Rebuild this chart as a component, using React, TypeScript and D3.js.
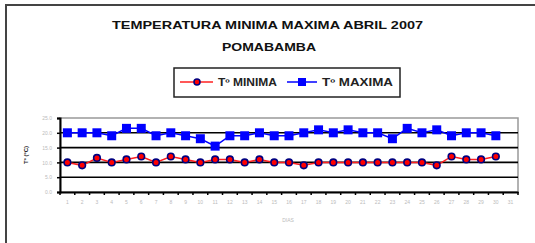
import { useEffect, useRef } from "react";
import * as d3 from "d3";

const days = d3.range(1, 32).map(String);
const tMin = [10, 9, 11.5, 10, 11, 12, 10, 12, 11, 10, 11, 11, 10, 11, 10, 10, 9, 10, 10, 10, 10, 10, 10, 10, 10, 9, 12, 11, 11, 12];
const tMax = [20, 20, 20, 19, 21.5, 21.5, 19, 20, 19, 18, 15.5, 19, 19, 20, 19, 19, 20, 21, 20, 21, 20, 20, 18, 21.5, 20, 21, 19, 20, 20, 19];
const yTicks = [0, 5, 10, 15, 20, 25];

const W = 535;
const H = 243;

export default function App() {
  const svgRef = useRef<SVGSVGElement | null>(null);

  useEffect(() => {
    if (!svgRef.current) return;
    const svg = d3.select(svgRef.current);
    svg.selectAll("*").remove();

    const font = "'Liberation Sans', Arial, sans-serif";
    const left = 60;
    const right = 518;
    const top = 118;
    const bottom = 192;

    // outer chart frame (cut off at right/bottom)
    svg.append("rect")
      .attr("x", 6).attr("y", 5).attr("width", 545).attr("height", 260)
      .attr("fill", "#fff").attr("stroke", "#444").attr("stroke-width", 2);

    // title
    svg.append("text")
      .attr("x", 112).attr("y", 29)
      .attr("textLength", 311).attr("lengthAdjust", "spacingAndGlyphs")
      .attr("font-family", font).attr("font-size", 11).attr("font-weight", 700)
      .attr("fill", "#111")
      .text("TEMPERATURA  MINIMA MAXIMA ABRIL 2007");
    svg.append("text")
      .attr("x", 222).attr("y", 51)
      .attr("textLength", 94).attr("lengthAdjust", "spacingAndGlyphs")
      .attr("font-family", font).attr("font-size", 11).attr("font-weight", 700)
      .attr("fill", "#111")
      .text("POMABAMBA");

    const x = d3.scaleBand().domain(days).range([left, right]);
    const y = d3.scaleLinear().domain([0, 25]).range([bottom, top]);
    const cx = (i: number) => (x(days[i]) ?? 0) + x.bandwidth() / 2;

    // plot area border
    svg.append("rect")
      .attr("x", left).attr("y", top).attr("width", right - left).attr("height", bottom - top)
      .attr("fill", "none").attr("stroke", "#999").attr("stroke-width", 1.5);

    // gridlines
    svg.append("g")
      .selectAll("line")
      .data(yTicks.filter((t) => t > 0 && t < 25))
      .join("line")
      .attr("x1", left).attr("x2", right)
      .attr("y1", (d) => y(d)).attr("y2", (d) => y(d))
      .attr("stroke", "#000").attr("stroke-width", 1.6);

    // y axis
    const yAxis = svg.append("g")
      .attr("transform", `translate(${left},0)`)
      .call(d3.axisLeft(y).tickValues(yTicks).tickSize(3).tickFormat((d) => d3.format(".1f")(d as number)));
    yAxis.select(".domain").attr("stroke", "#000").attr("stroke-width", 2);
    yAxis.selectAll(".tick line").attr("stroke", "#000").attr("stroke-width", 1.5);
    yAxis.selectAll("text").attr("font-family", font).attr("font-size", 5).attr("fill", "#bbb").attr("x", -8);

    // x axis
    const xAxis = svg.append("g")
      .attr("transform", `translate(0,${bottom})`)
      .call(d3.axisBottom(x).tickSize(0).tickPadding(8));
    xAxis.select(".domain").attr("stroke", "#000").attr("stroke-width", 2);
    xAxis.selectAll("text").attr("font-family", font).attr("font-size", 5).attr("fill", "#bbb");
    svg.append("g")
      .selectAll("line")
      .data(d3.range(days.length + 1))
      .join("line")
      .attr("x1", (i) => left + i * x.step()).attr("x2", (i) => left + i * x.step())
      .attr("y1", bottom).attr("y2", bottom + 3)
      .attr("stroke", "#000").attr("stroke-width", 1.5);

    // axis titles
    svg.append("text")
      .attr("x", 288).attr("y", 222).attr("text-anchor", "middle")
      .attr("font-family", font).attr("font-size", 5).attr("fill", "#bbb")
      .text("DIAS");
    svg.append("text")
      .attr("transform", `translate(28,155) rotate(-90)`).attr("text-anchor", "middle")
      .attr("font-family", font).attr("font-size", 6).attr("font-weight", 700).attr("fill", "#222")
      .text("Tº (ºC)");

    const line = d3.line<number>().x((_, i) => cx(i)).y((d) => y(d));

    // max series
    svg.append("path").datum(tMax).attr("d", line).attr("fill", "none")
      .attr("stroke", "#0000ff").attr("stroke-width", 1.5);
    svg.append("g").selectAll("rect").data(tMax).join("rect")
      .attr("x", (_, i) => cx(i) - 4.5).attr("y", (d) => y(d) - 4.5)
      .attr("width", 9).attr("height", 9).attr("fill", "#0000ff");

    // min series
    svg.append("path").datum(tMin).attr("d", line).attr("fill", "none")
      .attr("stroke", "#ff2020").attr("stroke-width", 1.5);
    svg.append("g").selectAll("circle").data(tMin).join("circle")
      .attr("cx", (_, i) => cx(i)).attr("cy", (d) => y(d)).attr("r", 3.3)
      .attr("fill", "#ff0000").attr("stroke", "#000080").attr("stroke-width", 1.6);

    // legend
    const lg = svg.append("g");
    lg.append("rect")
      .attr("x", 174).attr("y", 68).attr("width", 226).attr("height", 29)
      .attr("fill", "#fff").attr("stroke", "#222").attr("stroke-width", 1.5);
    lg.append("line").attr("x1", 180).attr("x2", 213).attr("y1", 82).attr("y2", 82)
      .attr("stroke", "#ff2020").attr("stroke-width", 1.5);
    lg.append("circle").attr("cx", 197).attr("cy", 82).attr("r", 3)
      .attr("fill", "#ff0000").attr("stroke", "#000080").attr("stroke-width", 1.5);
    lg.append("text").attr("x", 218).attr("y", 86)
      .attr("textLength", 59).attr("lengthAdjust", "spacingAndGlyphs")
      .attr("font-family", font).attr("font-size", 10).attr("font-weight", 700).attr("fill", "#222")
      .text("Tº MINIMA");
    lg.append("line").attr("x1", 287).attr("x2", 317).attr("y1", 82).attr("y2", 82)
      .attr("stroke", "#0000ff").attr("stroke-width", 1.5);
    lg.append("rect").attr("x", 298).attr("y", 78).attr("width", 8).attr("height", 8)
      .attr("fill", "#0000ff");
    lg.append("text").attr("x", 322).attr("y", 86)
      .attr("textLength", 71).attr("lengthAdjust", "spacingAndGlyphs")
      .attr("font-family", font).attr("font-size", 10).attr("font-weight", 700).attr("fill", "#222")
      .text("Tº MAXIMA");
  }, []);

  return (
    <div style={{ position: "fixed", left: 0, top: 0 }}>
      <svg ref={svgRef} width={W} height={H} style={{ display: "block", background: "#fff" }} />
    </div>
  );
}
